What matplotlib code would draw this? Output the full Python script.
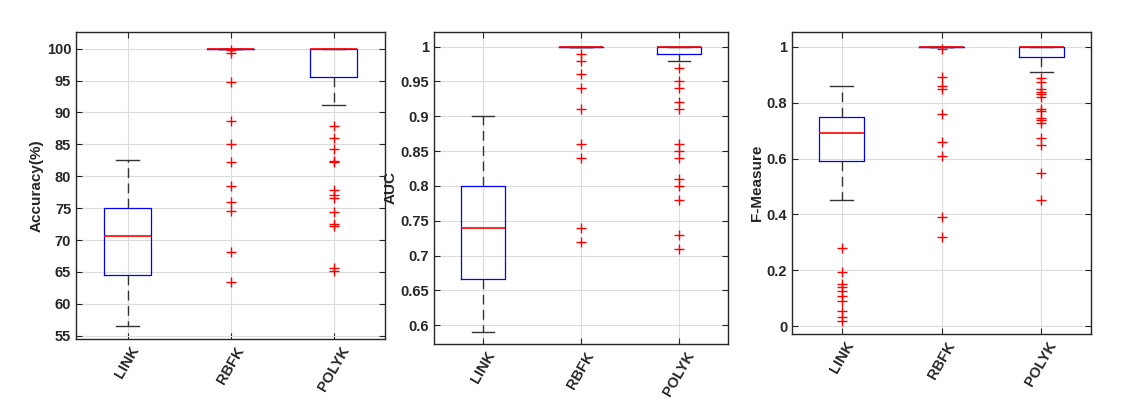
import numpy as np
import matplotlib
matplotlib.use("Agg")
import matplotlib.pyplot as plt

plt.rcParams['font.family'] = ['Liberation Sans', 'DejaVu Sans']
plt.rcParams['font.weight'] = 'bold'
plt.rcParams['text.color'] = '#262626'
plt.rcParams['axes.labelcolor'] = '#262626'
plt.rcParams['xtick.color'] = '#262626'
plt.rcParams['ytick.color'] = '#262626'

# ---- data ---- #
methods = ["LINK", "RBFK", "POLYK"]

# (whislo, q1, med, q3, whishi)
acc_stats = [(56.5, 64.5, 70.6, 75.1, 82.6),
             (100.0, 100.0, 100.0, 100.0, 100.0),
             (91.2, 95.5, 100.0, 100.0, 100.0)]
acc_fliers = [[],
              [99.8, 99.3, 94.7, 88.7, 85.1, 82.3, 78.5, 75.9, 74.6, 68.1, 63.5],
              [87.9, 86.0, 84.3, 82.4, 82.2, 77.9, 77.0, 76.6, 74.4, 72.5, 72.2, 65.7, 65.1]]

auc_stats = [(0.59, 0.666, 0.74, 0.80, 0.90),
             (1.0, 1.0, 1.0, 1.0, 1.0),
             (0.98, 0.99, 1.0, 1.0, 1.0)]
auc_fliers = [[],
              [0.99, 0.98, 0.96, 0.94, 0.91, 0.86, 0.84, 0.74, 0.72],
              [0.97, 0.95, 0.94, 0.92, 0.91, 0.86, 0.85, 0.84, 0.81, 0.80, 0.78, 0.73, 0.71]]

fm_stats = [(0.45, 0.59, 0.69, 0.75, 0.86),
            (1.0, 1.0, 1.0, 1.0, 1.0),
            (0.91, 0.962, 1.0, 1.0, 1.0)]
fm_fliers = [[0.28, 0.193, 0.152, 0.14, 0.126, 0.11, 0.092, 0.054, 0.034, 0.021],
             [0.99, 0.89, 0.86, 0.85, 0.76, 0.66, 0.61, 0.39, 0.32],
             [0.886, 0.874, 0.85, 0.839, 0.831, 0.82, 0.777, 0.77, 0.746, 0.738,
              0.726, 0.672, 0.648, 0.549, 0.45]]


def make_stats(stats, fliers):
    out = []
    for (lo, q1, med, q3, hi), fl in zip(stats, fliers):
        out.append(dict(whislo=lo, q1=q1, med=med, q3=q3, whishi=hi, fliers=fl))
    return out


def draw(ax, stats, fliers, ylabel, ylim, yticks, ytl):
    ax.bxp(make_stats(stats, fliers), positions=[1, 2, 3], widths=0.45,
           showfliers=True,
           boxprops=dict(color='blue', linewidth=0.9, zorder=2),
           medianprops=dict(color='red', linewidth=1.2, zorder=3),
           whiskerprops=dict(color='#333333', linestyle=(0, (7, 4)), linewidth=1.0),
           capprops=dict(color='#333333', linewidth=1.0),
           flierprops=dict(marker='+', markeredgecolor='red', markersize=6.5,
                           markeredgewidth=1.0, linestyle='none'),
           capwidths=0.23)
    ax.set_xlim(0.5, 3.5)
    ax.set_ylim(*ylim)
    ax.set_yticks(yticks)
    ax.set_yticklabels(ytl)
    ax.set_xticks([1, 2, 3])
    ax.set_xticklabels(methods, rotation=60, ha='center', va='top')
    ax.set_ylabel(ylabel, fontsize=11, fontweight='bold', labelpad=2)
    ax.grid(True, color='#dcdcdc', linewidth=0.8)
    ax.set_axisbelow(True)
    ax.tick_params(direction='in', labelsize=10.5, length=4, top=True, right=True)
    for s in ax.spines.values():
        s.set_linewidth(1.0)
        s.set_color('#262626')


fig = plt.figure(figsize=(11.24, 4.2), dpi=100)
W, H = 1124, 420
ax1 = fig.add_axes([76 / W, 1 - 339 / H, (385 - 76) / W, (339 - 32) / H])
ax2 = fig.add_axes([434 / W, 1 - 344 / H, (728 - 434) / W, (344 - 32) / H])
ax3 = fig.add_axes([792 / W, 1 - 334 / H, (1091 - 792) / W, (334 - 32) / H])

draw(ax1, acc_stats, acc_fliers, "Accuracy(%)", (54.5, 102.6),
     np.arange(55, 101, 5), [str(v) for v in range(55, 101, 5)])
draw(ax2, auc_stats, auc_fliers, "AUC", (0.573, 1.021),
     np.arange(0.6, 1.001, 0.05), ["0.6", "0.65", "0.7", "0.75", "0.8", "0.85", "0.9", "0.95", "1"])
draw(ax3, fm_stats, fm_fliers, "F-Measure", (-0.027, 1.052),
     np.arange(0, 1.01, 0.2), ["0", "0.2", "0.4", "0.6", "0.8", "1"])

fig.savefig("out.png", dpi=100)
